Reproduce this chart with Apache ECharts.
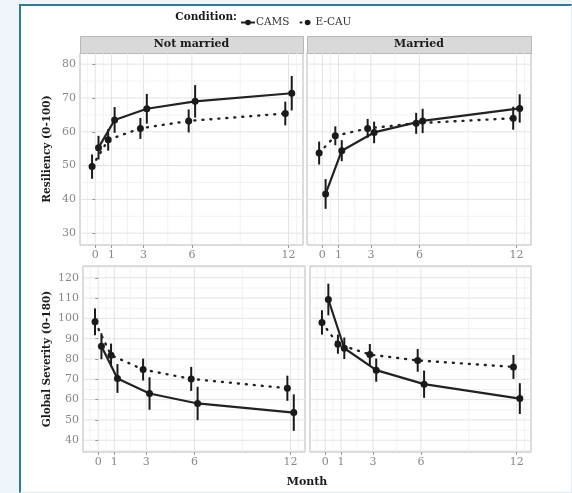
<!DOCTYPE html>
<html>
<head>
<meta charset="utf-8">
<script src="https://cdn.jsdelivr.net/npm/echarts@6/dist/echarts.min.js"></script>
<style>
html,body{margin:0;padding:0;background:#eef6fa;width:572px;height:493px;overflow:hidden;}
#card{position:absolute;left:19px;top:4px;width:550px;height:486px;background:#fff;border-top:2px solid #2c7b9a;border-left:2px solid #2c7b9a;border-right:1px solid #dfe9ee;border-bottom:1px solid #dfe9ee;}
#chart{position:absolute;left:0;top:0;width:572px;height:493px;}
</style>
</head>
<body>
<div id="card"></div>
<div id="chart"></div>
<script>
// ---- data ----
const months = [0, 1, 3, 6, 12];
const conditions = ['CAMS', 'E-CAU'];
const panels = ['Not married', 'Married'];
const yTicksResil = [30, 40, 50, 60, 70, 80];
const yMinorResil = [35, 45, 55, 65, 75];
const yTicksSev = [40, 50, 60, 70, 80, 90, 100, 110, 120];
const yMinorSev = [35, 45, 55, 65, 75, 85, 95, 105, 115, 125];
const xMinor = [-0.5, 0.5, 2, 4.5, 9, 12.5];

// Resiliency (0-100)
const resilNotMarriedCAMS = [55.3, 63.5, 66.8, 69.0, 71.4];
const resilNotMarriedCAMSci = [3.5, 3.8, 4.4, 4.8, 5.1];
const resilNotMarriedECAU = [49.7, 57.6, 61.0, 63.2, 65.4];
const resilNotMarriedECAUci = [3.6, 3.2, 3.1, 3.4, 3.5];
const resilMarriedCAMS = [41.6, 54.4, 59.8, 63.2, 66.9];
const resilMarriedCAMSci = [4.4, 3.1, 3.2, 3.6, 4.2];
const resilMarriedECAU = [53.7, 58.8, 61.0, 62.5, 64.0];
const resilMarriedECAUci = [3.4, 2.8, 2.8, 3.1, 3.4];

// Global Severity (0-180)
const sevNotMarriedCAMS = [86.3, 70.4, 63.0, 58.1, 53.6];
const sevNotMarriedCAMSci = [6.4, 7.1, 8.0, 8.2, 9.0];
const sevNotMarriedECAU = [98.3, 81.9, 74.8, 70.2, 65.6];
const sevNotMarriedECAUci = [6.6, 5.7, 5.4, 5.9, 6.2];
const sevMarriedCAMS = [109.3, 85.3, 74.5, 67.6, 60.5];
const sevMarriedCAMSci = [7.8, 5.3, 5.7, 6.7, 7.6];
const sevMarriedECAU = [98.0, 87.3, 82.2, 79.3, 76.1];
const sevMarriedECAUci = [6.0, 4.7, 5.2, 5.6, 5.9];

// ---- chart ----
const FONT = '"DejaVu Serif", serif';
const dodge = { 'CAMS': 0.2, 'E-CAU': -0.2 };
const INK = '#1a1a1a';

const grids = [
  { left: 80, top: 53, width: 223, height: 192 },
  { left: 307, top: 53, width: 224, height: 192 },
  { left: 83, top: 266, width: 222, height: 186 },
  { left: 310, top: 266, width: 221, height: 186 }
];
const panelDefs = [
  { yMin: 26.5, yMax: 83.3, ticks: yTicksResil, minor: yMinorResil, name: 'Resiliency (0-100)', gap: 27, showY: true,
    cams: resilNotMarriedCAMS, camsCi: resilNotMarriedCAMSci, ecau: resilNotMarriedECAU, ecauCi: resilNotMarriedECAUci },
  { yMin: 26.5, yMax: 83.3, ticks: yTicksResil, minor: yMinorResil, name: '', gap: 0, showY: false,
    cams: resilMarriedCAMS, camsCi: resilMarriedCAMSci, ecau: resilMarriedECAU, ecauCi: resilMarriedECAUci },
  { yMin: 34.2, yMax: 125.8, ticks: yTicksSev, minor: yMinorSev, name: 'Global Severity (0-180)', gap: 30, showY: true,
    cams: sevNotMarriedCAMS, camsCi: sevNotMarriedCAMSci, ecau: sevNotMarriedECAU, ecauCi: sevNotMarriedECAUci },
  { yMin: 34.2, yMax: 125.8, ticks: yTicksSev, minor: yMinorSev, name: '', gap: 0, showY: false,
    cams: sevMarriedCAMS, camsCi: sevMarriedCAMSci, ecau: sevMarriedECAU, ecauCi: sevMarriedECAUci }
];

const xAxes = [], yAxes = [], series = [];

function gridRender(params, api) {
  const cs = params.coordSys;
  const v = api.value(0), dir = api.value(1), major = api.value(2);
  let shape;
  if (dir === 0) {
    const p = api.coord([v, 50]);
    shape = { x1: p[0], y1: cs.y, x2: p[0], y2: cs.y + cs.height };
  } else {
    const p = api.coord([0, v]);
    shape = { x1: cs.x, y1: p[1], x2: cs.x + cs.width, y2: p[1] };
  }
  return { type: 'line', shape: shape, silent: true,
    style: { stroke: major ? '#e3e3e3' : '#efefef', lineWidth: major ? 1 : 0.8 } };
}
function errRender(params, api) {
  const x = api.value(0);
  const a = api.coord([x, api.value(1)]);
  const b = api.coord([x, api.value(2)]);
  return { type: 'line', shape: { x1: a[0], y1: a[1], x2: b[0], y2: b[1] },
    style: { stroke: INK, lineWidth: 2 } };
}

panelDefs.forEach((p, i) => {
  xAxes.push({
    type: 'value', gridIndex: i, min: -0.95, max: 12.9,
    splitLine: { show: false }, axisLine: { show: false },
    axisTick: { show: true, customValues: months, length: 3, lineStyle: { color: '#999' } },
    axisLabel: { customValues: months, fontFamily: FONT, fontSize: 11, color: '#888', margin: 5 }
  });
  yAxes.push({
    type: 'value', gridIndex: i, min: p.yMin, max: p.yMax,
    splitLine: { show: false }, axisLine: { show: false },
    axisTick: { show: p.showY, customValues: p.ticks, length: 3, lineStyle: { color: '#999' } },
    axisLabel: { show: p.showY, customValues: p.ticks, fontFamily: FONT, fontSize: 11, color: '#888', margin: 4 },
    name: p.name, nameLocation: 'middle', nameGap: p.gap,
    nameTextStyle: { fontFamily: FONT, fontSize: 10.5, fontWeight: 'bold', color: INK, verticalAlign: 'bottom' }
  });
  const gl = [];
  months.forEach(v => gl.push([v, 0, 1]));
  xMinor.forEach(v => gl.push([v, 0, 0]));
  p.ticks.forEach(v => gl.push([v, 1, 1]));
  p.minor.filter(v => v > p.yMin && v < p.yMax).forEach(v => gl.push([v, 1, 0]));
  series.push({ type: 'custom', xAxisIndex: i, yAxisIndex: i, z: 0, silent: true,
    renderItem: gridRender, data: gl, encode: { x: 0, y: 2 } });

  [['E-CAU', p.ecau, p.ecauCi], ['CAMS', p.cams, p.camsCi]].forEach(([name, vals, ci]) => {
    const xs = months.map(m => m + dodge[name]);
    series.push({
      type: 'custom', xAxisIndex: i, yAxisIndex: i, z: 3, silent: true,
      renderItem: errRender,
      encode: { x: 0, y: [1, 2] },
      data: xs.map((x, k) => [x, vals[k] - ci[k], vals[k] + ci[k]])
    });
    series.push({
      type: 'line', name: name, xAxisIndex: i, yAxisIndex: i, z: 4,
      data: xs.map((x, k) => [x, vals[k]]),
      symbol: 'circle', symbolSize: 7, showSymbol: true,
      itemStyle: { color: INK },
      lineStyle: name === 'CAMS'
        ? { color: '#222', width: 2.2, type: 'solid' }
        : { color: '#222', width: 2.4, type: [1, 7], cap: 'round' },
      emphasis: { disabled: true }, animation: false
    });
  });
});

const chart = echarts.init(document.getElementById('chart'), null, { renderer: 'canvas' });
chart.setOption({
  animation: false,
  backgroundColor: 'transparent',
  grid: grids.map(g => Object.assign({ show: true, borderColor: '#b8b8b8', borderWidth: 1, backgroundColor: '#fff' }, g)),
  xAxis: xAxes,
  yAxis: yAxes,
  legend: {
    data: conditions, left: 235, top: 12, itemWidth: 14, itemHeight: 7, itemGap: 10,
    textStyle: { fontFamily: FONT, fontSize: 10.5, color: '#333', padding: [0, 0, 0, -4] },
    selectedMode: false
  },
  graphic: [
    { type: 'text', x: 237, y: 17.5, style: { text: 'Condition:', font: 'bold 10.5px "DejaVu Serif", serif', fill: INK, align: 'right', verticalAlign: 'middle' } },
    { type: 'rect', left: 80, top: 36, shape: { width: 223, height: 17 }, style: { fill: '#d9d9d9', stroke: '#b8b8b8', lineWidth: 1 } },
    { type: 'rect', left: 307, top: 36, shape: { width: 224, height: 17 }, style: { fill: '#d9d9d9', stroke: '#b8b8b8', lineWidth: 1 } },
    { type: 'text', x: 80 + 223 / 2, y: 44.5, style: { text: panels[0], font: 'bold 11px "DejaVu Serif", serif', fill: INK, align: 'center', verticalAlign: 'middle' } },
    { type: 'text', x: 307 + 224 / 2, y: 44.5, style: { text: panels[1], font: 'bold 11px "DejaVu Serif", serif', fill: INK, align: 'center', verticalAlign: 'middle' } },
    { type: 'text', x: 307, y: 482, style: { text: 'Month', font: 'bold 11px "DejaVu Serif", serif', fill: INK, align: 'center', verticalAlign: 'middle' } }
  ],
  series: series
});
</script>
</body>
</html>
